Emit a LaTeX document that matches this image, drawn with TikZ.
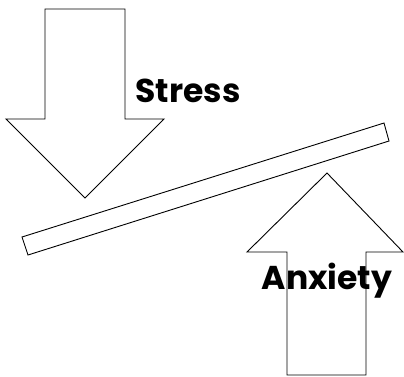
\documentclass[tikz,border=0pt]{standalone}
\usepackage{fontspec}
\setmainfont{Poppins}
\begin{document}
\begin{tikzpicture}[x=1pt,y=-1pt]
	\tikzstyle{Outline} = [draw=black,line width=0.9pt,fill=white,line join=miter]
	\tikzstyle{Label} = [font=\bfseries\fontsize{33}{33}\selectfont,inner sep=0pt,anchor=base]
	\useasboundingbox (0,0) rectangle (404,376);
	\filldraw[Outline] (45,9)--(125,9)--(125,119)--(164,119)--(85,198)--(6,119)--(45,119)--cycle;
	\filldraw[Outline] (22,237)--(28,255)--(389,141)--(384,123)--cycle;
	\node[Label] (stress) at (188,102) {Stress};
	\filldraw[Outline] (287,375)--(366,375)--(366,252)--(403,252)--(327,173)--(247,252)--(287,252)--cycle;
	\node[Label] (anxiety) at (327,289) {Anxiety};
\end{tikzpicture}
\end{document}
